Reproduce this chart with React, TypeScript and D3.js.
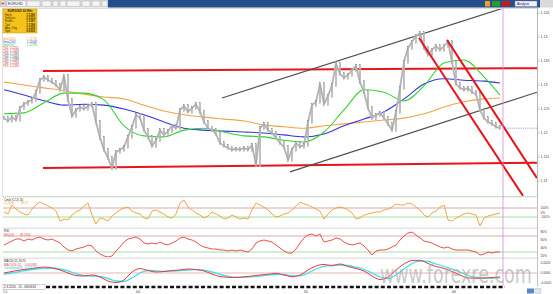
import React from "react";
import * as d3 from "d3";

const W = 553;
const H = 294;

// price closes, one per bar (bar index 0..124)
const closes = [
  1.1231, 1.1225, 1.1233, 1.1227, 1.1252, 1.126, 1.1265, 1.1269, 1.1285, 1.131,
  1.1317, 1.131, 1.1306, 1.13, 1.129, 1.1319, 1.1269, 1.1235, 1.1248, 1.1254,
  1.125, 1.1256, 1.126, 1.1223, 1.119, 1.1165, 1.1148, 1.1127, 1.116, 1.1165,
  1.1171, 1.1192, 1.1213, 1.1238, 1.1231, 1.1206, 1.1192, 1.1173, 1.1185, 1.1206,
  1.1196, 1.1204, 1.1215, 1.121, 1.1248, 1.1256, 1.1244, 1.1252, 1.126, 1.1244,
  1.1223, 1.121, 1.1206, 1.1198, 1.1179, 1.1173, 1.1169, 1.1165, 1.1167, 1.1165,
  1.1169, 1.1165, 1.1175, 1.1133, 1.121, 1.1219, 1.1206, 1.12, 1.119, 1.1179,
  1.1171, 1.1144, 1.1165, 1.1179, 1.1171, 1.1175, 1.1223, 1.1258, 1.1265, 1.1302,
  1.126, 1.1277, 1.13, 1.1344, 1.1323, 1.1315, 1.1321, 1.1331, 1.134, 1.1306,
  1.1285, 1.1252, 1.1231, 1.1238, 1.1242, 1.1231, 1.1219, 1.1206, 1.1244, 1.1294,
  1.1348, 1.1377, 1.139, 1.1402, 1.1408, 1.1377, 1.1363, 1.1373, 1.1381, 1.1373,
  1.1381, 1.139, 1.1348, 1.1302, 1.1294, 1.129, 1.1294, 1.1285, 1.1281, 1.1248,
  1.1231, 1.1223, 1.1219, 1.1213, 1.121,
];

// moving averages sampled at these bars
const smaBars = d3.range(0, 121, 5).concat([124]);
const sma200 = [
  1.1306, 1.13, 1.1294, 1.1288, 1.1281, 1.1275, 1.1271, 1.1258, 1.1246, 1.1238,
  1.1233, 1.1229, 1.1225, 1.1217, 1.1213, 1.121, 1.1215, 1.1219, 1.1223, 1.1227,
  1.1231, 1.124, 1.1254, 1.1265, 1.1271, 1.1273,
];
const sma100 = [
  1.129, 1.1279, 1.1267, 1.1258, 1.126, 1.1258, 1.125, 1.1238, 1.1223, 1.121,
  1.1206, 1.1204, 1.1202, 1.12, 1.1196, 1.1192, 1.1198, 1.1215, 1.1229, 1.1244,
  1.1271, 1.1302, 1.1313, 1.131, 1.1308, 1.1304,
];
const sma50 = [
  1.124, 1.1242, 1.1263, 1.1283, 1.1283, 1.1269, 1.1215, 1.1194, 1.1192, 1.1206,
  1.121, 1.1202, 1.1194, 1.1192, 1.1185, 1.1181, 1.1202, 1.1248, 1.129, 1.1285,
  1.1267, 1.1298, 1.1346, 1.1352, 1.1317, 1.1279,
];

// drawn lines: [bar, price] endpoints
const redLevels = [
  [[9.75, 1.1329], [133.25, 1.1335]],
  [[9.75, 1.1127], [133.25, 1.1138]],
];
const grayChannel = [
  [[54.5, 1.1273], [124.75, 1.146]],
  [[71.5, 1.1119], [133.25, 1.1285]],
];
const redChannel = [
  [[103.75, 1.1398], [129.75, 1.1069]],
  [[110.75, 1.1394], [133.25, 1.1106]],
];

const cci = [
  11, -33, 167, 78, 11, -33, -56, 78, 167, 233,
  189, 144, 100, 33, -189, -144, -167, -56, 11, 56,
  144, 211, -56, -255, -122, -144, -189, -78, -11, 56,
  100, 122, 33, -11, -33, -122, -144, 33, 56, 11,
  -33, -100, -122, -33, 211, 278, 122, 56, -11, -56,
  -122, -78, 11, -33, -78, -144, -122, -56, -100, -144,
  -122, -144, 56, 211, 167, 122, 56, -33, -100, -78,
  -33, -11, 56, 144, 233, 189, 167, 122, 78, 33,
  -144, -33, 56, 100, 122, 100, 56, -11, -144, -122,
  -56, -33, -11, 11, 11, 56, 78, 122, 189, 167,
  167, 211, 189, 122, 56, -56, -100, -11, 33, 122,
  167, -167, -189, -122, -78, -33, -11, -33, -56, -300,
  -122, -78, -56, -33, -11,
];

const rsi = [
  47.5, 52.5, 57.5, 62.5, 62.5, 57.5, 62.5, 60, 65, 67.5,
  62.5, 60, 62.5, 57.5, 52.5, 42.5, 35, 32.5, 37.5, 40,
  42.5, 47.5, 45, 32.5, 25, 20, 17.5, 20, 32.5, 42.5,
  55, 62.5, 65, 67.5, 62.5, 52.5, 50, 52.5, 50, 55,
  50, 47.5, 52.5, 57.5, 65, 67.5, 62.5, 60, 55, 47.5,
  42.5, 40, 37.5, 37.5, 35, 35, 32.5, 35, 32.5, 35,
  32.5, 30, 37.5, 52.5, 57.5, 60, 57.5, 55, 47.5, 40,
  32.5, 27.5, 27.5, 37.5, 52.5, 65, 72.5, 75, 70, 75,
  55, 57.5, 60, 65, 62.5, 55, 50, 47.5, 50, 52.5,
  45, 35, 22.5, 32.5, 35, 35, 37.5, 42.5, 47.5, 60,
  70, 77.5, 80, 72.5, 65, 57.5, 55, 52.5, 47.5, 42.5,
  40, 42.5, 37.5, 35, 35, 35, 35, 32.5, 30, 22.5,
  25, 30, 27.5, 30, 30,
];

// MACD sampled every 2 bars
const macd = [
  0, 0.0003, 0.0006, 0.0008, 0.001, 0.0012, 0.001, 0.0006, 0, -0.0005,
  -0.0006, -0.0004, -0.0008, -0.0016, -0.0019, -0.0014, 0.0002, 0.00088, 0.0005, 0.0002,
  0.0003, 0.0005, 0.0006, 0.0008, 0.0007, 0.0004, -0.0002, -0.00072, -0.00086, -0.0009,
  -0.00076, -0.0006, -0.0004, -0.00026, -0.00008, -0.0004, -0.00072, -0.0004, 0.0006, 0.0014,
  0.0017, 0.0015, 0.0018, 0.0013, 0.0009, 0.0004, -0.0006, -0.0013, -0.0008, 0.0006,
  0.0018, 0.0025, 0.00254, 0.0019, 0.0013, 0.00092, 0.0003, -0.0004, -0.001, -0.00104,
  -0.001, -0.00092, -0.0008,
];
const signal = [
  -0.0002, 0, 0.0003, 0.0006, 0.0008, 0.00094, 0.001, 0.0008, 0.0004, -0.0001,
  -0.0005, -0.0006, -0.0007, -0.0011, -0.0016, -0.0017, -0.001, 0, 0.0005, 0.00044,
  0.00034, 0.00036, 0.00048, 0.0006, 0.00068, 0.00056, 0.0002, -0.0003, -0.00064, -0.00084,
  -0.00086, -0.00076, -0.0006, -0.00044, -0.00026, -0.0003, -0.00056, -0.00056, 0, 0.0008,
  0.00134, 0.0015, 0.0016, 0.0015, 0.00116, 0.0007, 0, -0.0008, -0.0011, -0.0004,
  0.0008, 0.0019, 0.0024, 0.0023, 0.0018, 0.0013, 0.0008, 0.0002, -0.0005, -0.0009,
  -0.00104, -0.001, -0.00096,
];

const priceTicks = [1.145, 1.14, 1.135, 1.13, 1.125, 1.12, 1.115, 1.11];
const cciTicks = [100, 0, -100];
const rsiTicks = [80, 60, 40, 20];
const macdTicks = [0.002, 0, -0.002];
const dateLabels = [
  { bar: 33, text: "04" },
  { bar: 75, text: "05" },
  { bar: 112, text: "06" },
];
const infoRows = [
  ["Hoch", "1.1380"],
  ["Schluss", "1.1210"],
  ["Eröffn.", "1.1287"],
  ["Tief", "1.1196"],
  ["Abs. Chg", "1.1206"],
  ["Spd", "0.0000"],
];
const legendRows = [
  { t: "Sma(200)", v: "1.12732", c: "#f0a040" },
  { t: "Sma(100)", v: "1.13042", c: "#4444dd" },
  { t: "Sma(50)", v: "1.12790", c: "#33cc33" },
  { t: "TS1: 1.1211", v: "", c: "#e02020" },
  { t: "TS2: 1.1328", v: "", c: "#e02020" },
  { t: "TS3: 1.1285", v: "", c: "#444" },
  { t: "TS4: 1.1064", v: "", c: "#444" },
  { t: "TS5: 1.1289", v: "", c: "#444" },
  { t: "TS6: 1.1256", v: "", c: "#e02020" },
  { t: "TS7: 1.1290", v: "", c: "#e02020" },
];

const FONT = "Liberation Sans, Arial, sans-serif";

export default function App() {
  const x = d3.scaleLinear().domain([0, 133.25]).range([4, 537]);
  const yP = d3.scaleLinear().domain([1.11, 1.145]).range([181, 13]);
  const yC = d3.scaleLinear().domain([-322, 278]).range([227, 200]);
  const yR = d3.scaleLinear().domain([15, 87.5]).range([258, 229]);
  const yM = d3.scaleLinear().domain([-0.0024, 0.0028]).range([285, 259]);

  const closeLine = d3.line<number>().x((_, i) => x(i)).y((d) => yP(d))(closes) || "";
  const smaLine = (arr: number[]) =>
    d3.line<number>().x((_, i) => x(smaBars[i])).y((d) => yP(d)).curve(d3.curveMonotoneX)(arr) || "";
  const cciLine = d3.line<number>().x((_, i) => x(i)).y((d) => yC(d))(cci) || "";
  const rsiLine = d3.line<number>().x((_, i) => x(i)).y((d) => yR(d))(rsi) || "";
  const mLine = (arr: number[]) =>
    d3.line<number>().x((_, i) => x(i * 2)).y((d) => yM(d)).curve(d3.curveMonotoneX)(arr) || "";

  const seg = (s: number[][], key: string, stroke: string, sw: number) => (
    <line key={key} x1={x(s[0][0])} y1={yP(s[0][1])} x2={x(s[1][0])} y2={yP(s[1][1])} stroke={stroke} strokeWidth={sw} />
  );

  const lastPrice = closes[closes.length - 1];
  const pinkX = x(124.75);

  return (
    <svg width={W} height={H} style={{ position: "absolute", left: 0, top: 0, background: "#fff" }} fontFamily={FONT}>
      <defs>
        <clipPath id="mainClip">
          <rect x={3} y={9} width={534} height={187} />
        </clipPath>
      </defs>
      <rect x={0} y={0} width={W} height={H} fill="#fff" />

      {/* top toolbar */}
      <rect x={0} y={0} width={W} height={7.5} fill="#d9d9d9" />
      <rect x={108} y={0} width={432} height={7.5} fill="#23508c" />
      <rect x={1} y={1} width={4} height={5} fill="#fff" stroke="#999" strokeWidth={0.4} />
      <text x={1.6} y={5.3} fontSize={4} fill="#c00" fontWeight="bold">H</text>
      <rect x={7} y={1} width={19} height={5.5} fill="#fff" stroke="#999" strokeWidth={0.4} />
      <text x={8} y={5.2} fontSize={3.6} fill="#224">EURUSD</text>
      {[27, 42, 53, 60, 67, 82, 92, 102].map((bx, i) => (
        <rect key={"tb" + i} x={bx} y={1} width={[13, 9, 5, 6, 13, 8, 8, 5][i]} height={5.5} fill="#f4f4f4" stroke="#aaa" strokeWidth={0.4} />
      ))}
      <rect x={485} y={1} width={5} height={5.5} fill="#f0a020" />
      <rect x={492} y={1} width={8} height={5.5} fill="#2a9a2a" />
      <rect x={502} y={1} width={8} height={5.5} fill="#b82020" />
      <rect x={515} y={1} width={22} height={5.5} fill="#eef" stroke="#889" strokeWidth={0.4} />
      <text x={517} y={5.2} fontSize={3.4} fill="#223">Analyse</text>

      {/* main panel */}
      <rect x={2.5} y={8.5} width={535} height={188} fill="#fff" stroke="#c8c8c8" strokeWidth={0.6} />
      <g clipPath="url(#mainClip)">
        {redLevels.map((s, i) => seg(s, "rl" + i, "#e8141c", 2))}
        {grayChannel.map((s, i) => seg(s, "gc" + i, "#505050", 1.2))}
        <path d={smaLine(sma200)} fill="none" stroke="#f5a243" strokeWidth={1.1} />
        <path d={smaLine(sma100)} fill="none" stroke="#3434e0" strokeWidth={1.1} />
        <path d={smaLine(sma50)} fill="none" stroke="#2ed62e" strokeWidth={1.1} />
        <path d={closeLine} fill="none" stroke="#c6c6c6" strokeWidth={2} />
        {closes.map((c, i) => {
          const p = i === 0 ? c : closes[i - 1];
          const y1 = yP(Math.max(p, c));
          const y2 = yP(Math.min(p, c));
          return (
            <rect key={"cb" + i} x={x(i) - 0.8} y={y1 - 1.5} width={1.6} height={y2 - y1 + 3} fill="#d6d6d6" stroke="#7c7c7c" strokeWidth={0.3} />
          );
        })}
        <path d={closeLine} fill="none" stroke="#909090" strokeWidth={0.45} />
        {redChannel.map((s, i) => seg(s, "rc" + i, "#e8141c", 2))}
        <line x1={pinkX} x2={537} y1={yP(lastPrice)} y2={yP(lastPrice)} stroke="#7a7af0" strokeWidth={0.7} strokeDasharray="1.2 1" />
      </g>

      {/* info box */}
      <rect x={3} y={9} width={34} height={24} fill="#f5c21b" stroke="#c79a00" strokeWidth={0.5} />
      <text x={20} y={12.2} fontSize={3.2} fill="#3a2a00" textAnchor="middle" fontWeight="bold">EUR/USD 60 Min</text>
      {infoRows.map((r, i) => (
        <g key={"ir" + i}>
          <text x={5} y={16 + i * 3.2} fontSize={2.9} fill="#3a2a00">{r[0]}</text>
          <text x={35} y={16 + i * 3.2} fontSize={2.9} fill="#3a2a00" textAnchor="end" fontWeight="bold">{r[1]}</text>
        </g>
      ))}
      {legendRows.map((r, i) => (
        <g key={"lg" + i}>
          <text x={3} y={39.5 + i * 3.1} fontSize={2.9} fill={r.c}>{r.t}</text>
          {r.v && <text x={25} y={39.5 + i * 3.1} fontSize={2.9} fill={r.c}>{"- " + r.v}</text>}
        </g>
      ))}

      {/* CCI panel */}
      <line x1={3} x2={537} y1={197} y2={197} stroke="#7ccc7c" strokeWidth={0.6} strokeDasharray="1 1" />
      <line x1={3} x2={537} y1={yC(100)} y2={yC(100)} stroke="#c89898" strokeWidth={0.8} />
      <line x1={3} x2={537} y1={yC(-100)} y2={yC(-100)} stroke="#8cd88c" strokeWidth={0.8} />
      <path d={cciLine} fill="none" stroke="#f39a2c" strokeWidth={0.9} />
      <text x={4} y={200.5} fontSize={3.1} fill="#333">Cmd (CCI) 20</text>
      <text x={4} y={204} fontSize={2.9} fill="#f39a2c">CCI(20)</text>
      <text x={20} y={204} fontSize={2.9} fill="#f39a2c">-89.27</text>
      <rect x={3} y={227.5} width={534} height={1.4} fill="#e2e2e2" />

      {/* RSI panel */}
      <line x1={3} x2={537} y1={yR(70)} y2={yR(70)} stroke="#c89898" strokeWidth={0.8} />
      <line x1={3} x2={537} y1={yR(30)} y2={yR(30)} stroke="#8cd88c" strokeWidth={0.8} />
      <path d={rsiLine} fill="none" stroke="#ee3a3a" strokeWidth={0.9} />
      <text x={4} y={232} fontSize={3.1} fill="#333">RSI</text>
      <text x={4} y={235.5} fontSize={2.9} fill="#ee3a3a">RSI(14)</text>
      <text x={20} y={235.5} fontSize={2.9} fill="#ee3a3a">39.1916</text>
      <rect x={3} y={257.5} width={534} height={1.4} fill="#e2e2e2" />

      {/* MACD panel */}
      <line x1={3} x2={537} y1={yM(0)} y2={yM(0)} stroke="#d89898" strokeWidth={0.7} />
      <path d={mLine(signal)} fill="none" stroke="#3ee0f0" strokeWidth={1.3} />
      <path d={mLine(macd)} fill="none" stroke="#ee3a3a" strokeWidth={1} />
      <text x={4} y={262} fontSize={3.1} fill="#333">MACD(12,26,9)</text>
      <text x={4} y={265.5} fontSize={2.9} fill="#ee3a3a">MACD(26,12)</text>
      <text x={24} y={265.5} fontSize={2.9} fill="#ee3a3a">-0.001695</text>
      <text x={4} y={269} fontSize={2.9} fill="#2cc8dc">Trendsignal(9)</text>
      <text x={24} y={269} fontSize={2.9} fill="#2cc8dc">-0.001234</text>

      {/* watermark */}
      <g transform="translate(380,283) scale(1,1.45)">
        <text x={0} y={0} fontSize={17.5} fill="#a8a8a8" opacity={0.6} fontFamily="DejaVu Sans, sans-serif">www.forexre.com</text>
      </g>

      {/* pink time marker */}
      <line x1={pinkX} x2={pinkX} y1={8} y2={286} stroke="#d58ad5" strokeWidth={0.8} />

      {/* right axis */}
      <line x1={537.5} x2={537.5} y1={8} y2={286} stroke="#9a9a9a" strokeWidth={0.6} />
      {priceTicks.map((t) => (
        <g key={"pt" + t}>
          <line x1={537.5} x2={539.5} y1={yP(t)} y2={yP(t)} stroke="#777" strokeWidth={0.5} />
          <text x={540.5} y={yP(t) + 1.2} fontSize={3.6} fill="#444">{t}</text>
        </g>
      ))}
      {cciTicks.map((t) => (
        <text key={"ct" + t} x={540.5} y={yC(t) + 1.2} fontSize={3.2} fill="#444">{t + "%"}</text>
      ))}
      {rsiTicks.map((t) => (
        <text key={"rt" + t} x={540.5} y={yR(t) + 1.2} fontSize={3.2} fill="#444">{t + "%"}</text>
      ))}
      {macdTicks.map((t) => (
        <text key={"mt" + t} x={540.5} y={yM(t) + 1.2} fontSize={3.2} fill="#444">{t.toFixed(4)}</text>
      ))}

      {/* time axis */}
      <line x1={46} x2={505} y1={287} y2={287} stroke="#111" strokeWidth={2.4} strokeDasharray="4 2.2" />
      <rect x={3} y={284.5} width={42} height={5} fill="#fff" stroke="#888" strokeWidth={0.4} />
      <text x={4} y={288.3} fontSize={3} fill="#222">2.3.2016 - 10 - 08/03/43</text>
      {dateLabels.map((d) => (
        <text key={"dl" + d.text} x={x(d.bar)} y={292.5} fontSize={3.4} fill="#333">{d.text}</text>
      ))}
      <text x={3} y={293.3} fontSize={3} fill="#444">1,0</text>
      <rect x={527} y={288.5} width={7} height={5} fill="#5b86c4" />
      <rect x={535} y={288.5} width={6} height={5} fill="#dde6f3" stroke="#8aa" strokeWidth={0.3} />
    </svg>
  );
}
